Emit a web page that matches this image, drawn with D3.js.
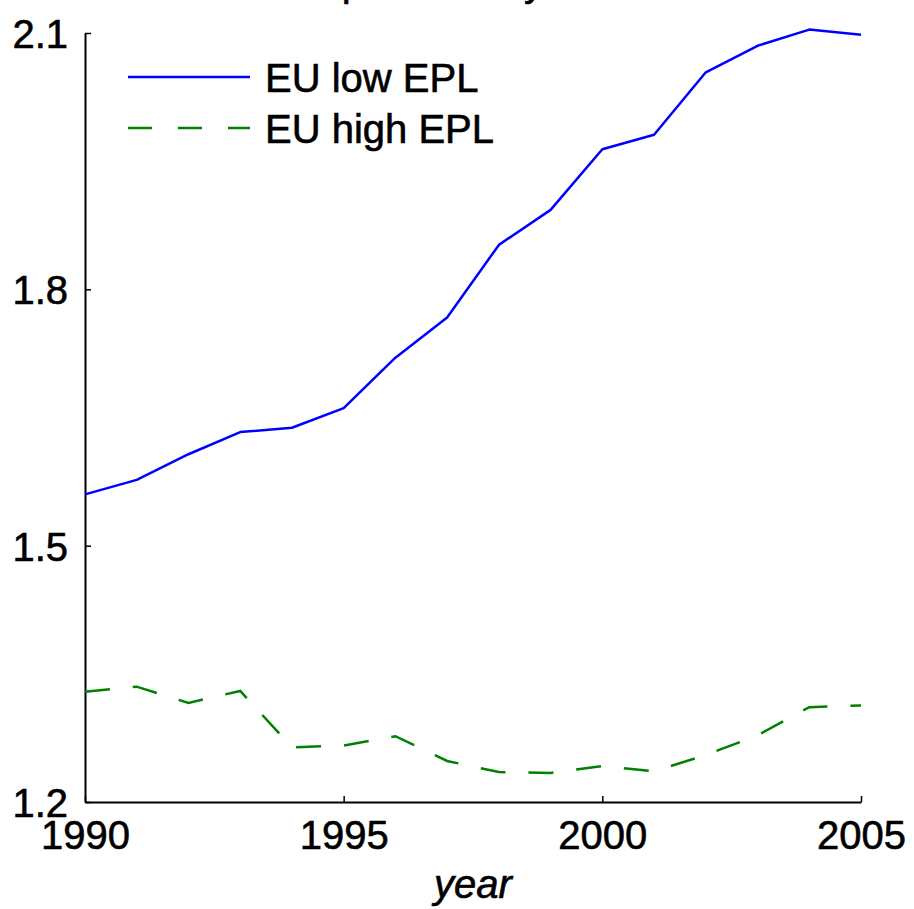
<!DOCTYPE html>
<html>
<head>
<meta charset="utf-8">
<script src="https://cdn.jsdelivr.net/npm/d3@7"></script>
<style>
  body { margin: 0; background: #fff; }
  text { font-family: "Liberation Sans", Arial, sans-serif; stroke: #000; stroke-width: 0.6px; }
</style>
</head>
<body>
<div class="chart"></div>
<script>
// data
const years = d3.range(1990, 2006);
const euLow = [1.560, 1.577, 1.607, 1.633, 1.638, 1.661, 1.720, 1.767,
               1.852, 1.893, 1.964, 1.981, 2.054, 2.085, 2.104, 2.098];
const euHigh = [1.329, 1.335, 1.316, 1.330, 1.264, 1.266, 1.277, 1.248,
                1.235, 1.234, 1.242, 1.236, 1.255, 1.278, 1.311, 1.313];
const xTicks = [1990, 1995, 2000, 2005];
const yTicks = [1.2, 1.5, 1.8, 2.1];
const seriesNames = ['EU low EPL', 'EU high EPL'];

const outerWidth = 914, outerHeight = 909;
const margin = {top: 33, right: 53, bottom: 107, left: 85};
const width = outerWidth - margin.left - margin.right;
const height = outerHeight - margin.top - margin.bottom;

const root = d3.select('.chart').append('svg')
    .attr('width', outerWidth)
    .attr('height', outerHeight);

// title, mostly cut off at the top edge
root.append('text')
    .attr('x', 206)
    .attr('y', -4)
    .attr('font-size', 40)
    .text('Labour productivity');

const svg = root.append('g')
    .attr('transform', 'translate(' + margin.left + ',' + margin.top + ')');

const x = d3.scaleLinear().domain([1990, 2005]).range([0, width]);
const y = d3.scaleLinear().domain([1.2, 2.1]).range([height, 0]);

// axes, ticks pointing inward
const xAxis = svg.append('g')
    .attr('transform', 'translate(0,' + height + ')')
    .call(d3.axisBottom(x).tickValues(xTicks).tickFormat(d3.format('d'))
        .tickSizeInner(-6).tickSizeOuter(0).tickPadding(19));
const yAxis = svg.append('g')
    .call(d3.axisLeft(y).tickValues(yTicks).tickFormat(d3.format('.1f'))
        .tickSizeInner(-6).tickSizeOuter(0).tickPadding(17));

[xAxis, yAxis].forEach(ax => {
    ax.select('.domain').attr('stroke', '#000').attr('stroke-width', 2);
    ax.selectAll('.tick line').attr('stroke', '#000').attr('stroke-width', 1.5);
    ax.selectAll('.tick text')
        .attr('fill', '#000')
        .attr('font-size', 40)
        .attr('font-family', '"Liberation Sans", Arial, sans-serif');
});
yAxis.selectAll('.tick text').attr('dy', '0.36em');

// x label
svg.append('text')
    .attr('x', width / 2)
    .attr('y', height + 96)
    .attr('text-anchor', 'middle')
    .attr('font-size', 40)
    .attr('font-style', 'italic')
    .text('year');

const line = d3.line()
    .x((d, i) => x(years[i]))
    .y(d => y(d));

svg.append('path')
    .datum(euLow)
    .attr('fill', 'none')
    .attr('stroke', '#0000ff')
    .attr('stroke-width', 2.5)
    .attr('stroke-linejoin', 'round')
    .attr('d', line);

svg.append('path')
    .datum(euHigh)
    .attr('fill', 'none')
    .attr('stroke', '#008000')
    .attr('stroke-width', 2.5)
    .attr('stroke-dasharray', '25,23')
    .attr('d', line);

// legend
const legend = svg.append('g').attr('transform', 'translate(43,44)');
const styles = [
    {stroke: '#0000ff', dash: null},
    {stroke: '#008000', dash: '24,26'}
];
seriesNames.forEach((name, i) => {
    const g = legend.append('g').attr('transform', 'translate(0,' + (i * 51) + ')');
    g.append('line')
        .attr('x1', 0).attr('x2', 122)
        .attr('stroke', styles[i].stroke)
        .attr('stroke-width', 2.5)
        .attr('stroke-dasharray', styles[i].dash);
    g.append('text')
        .attr('x', 137)
        .attr('y', 15)
        .attr('font-size', 40)
        .text(name);
});
</script>
</body>
</html>
